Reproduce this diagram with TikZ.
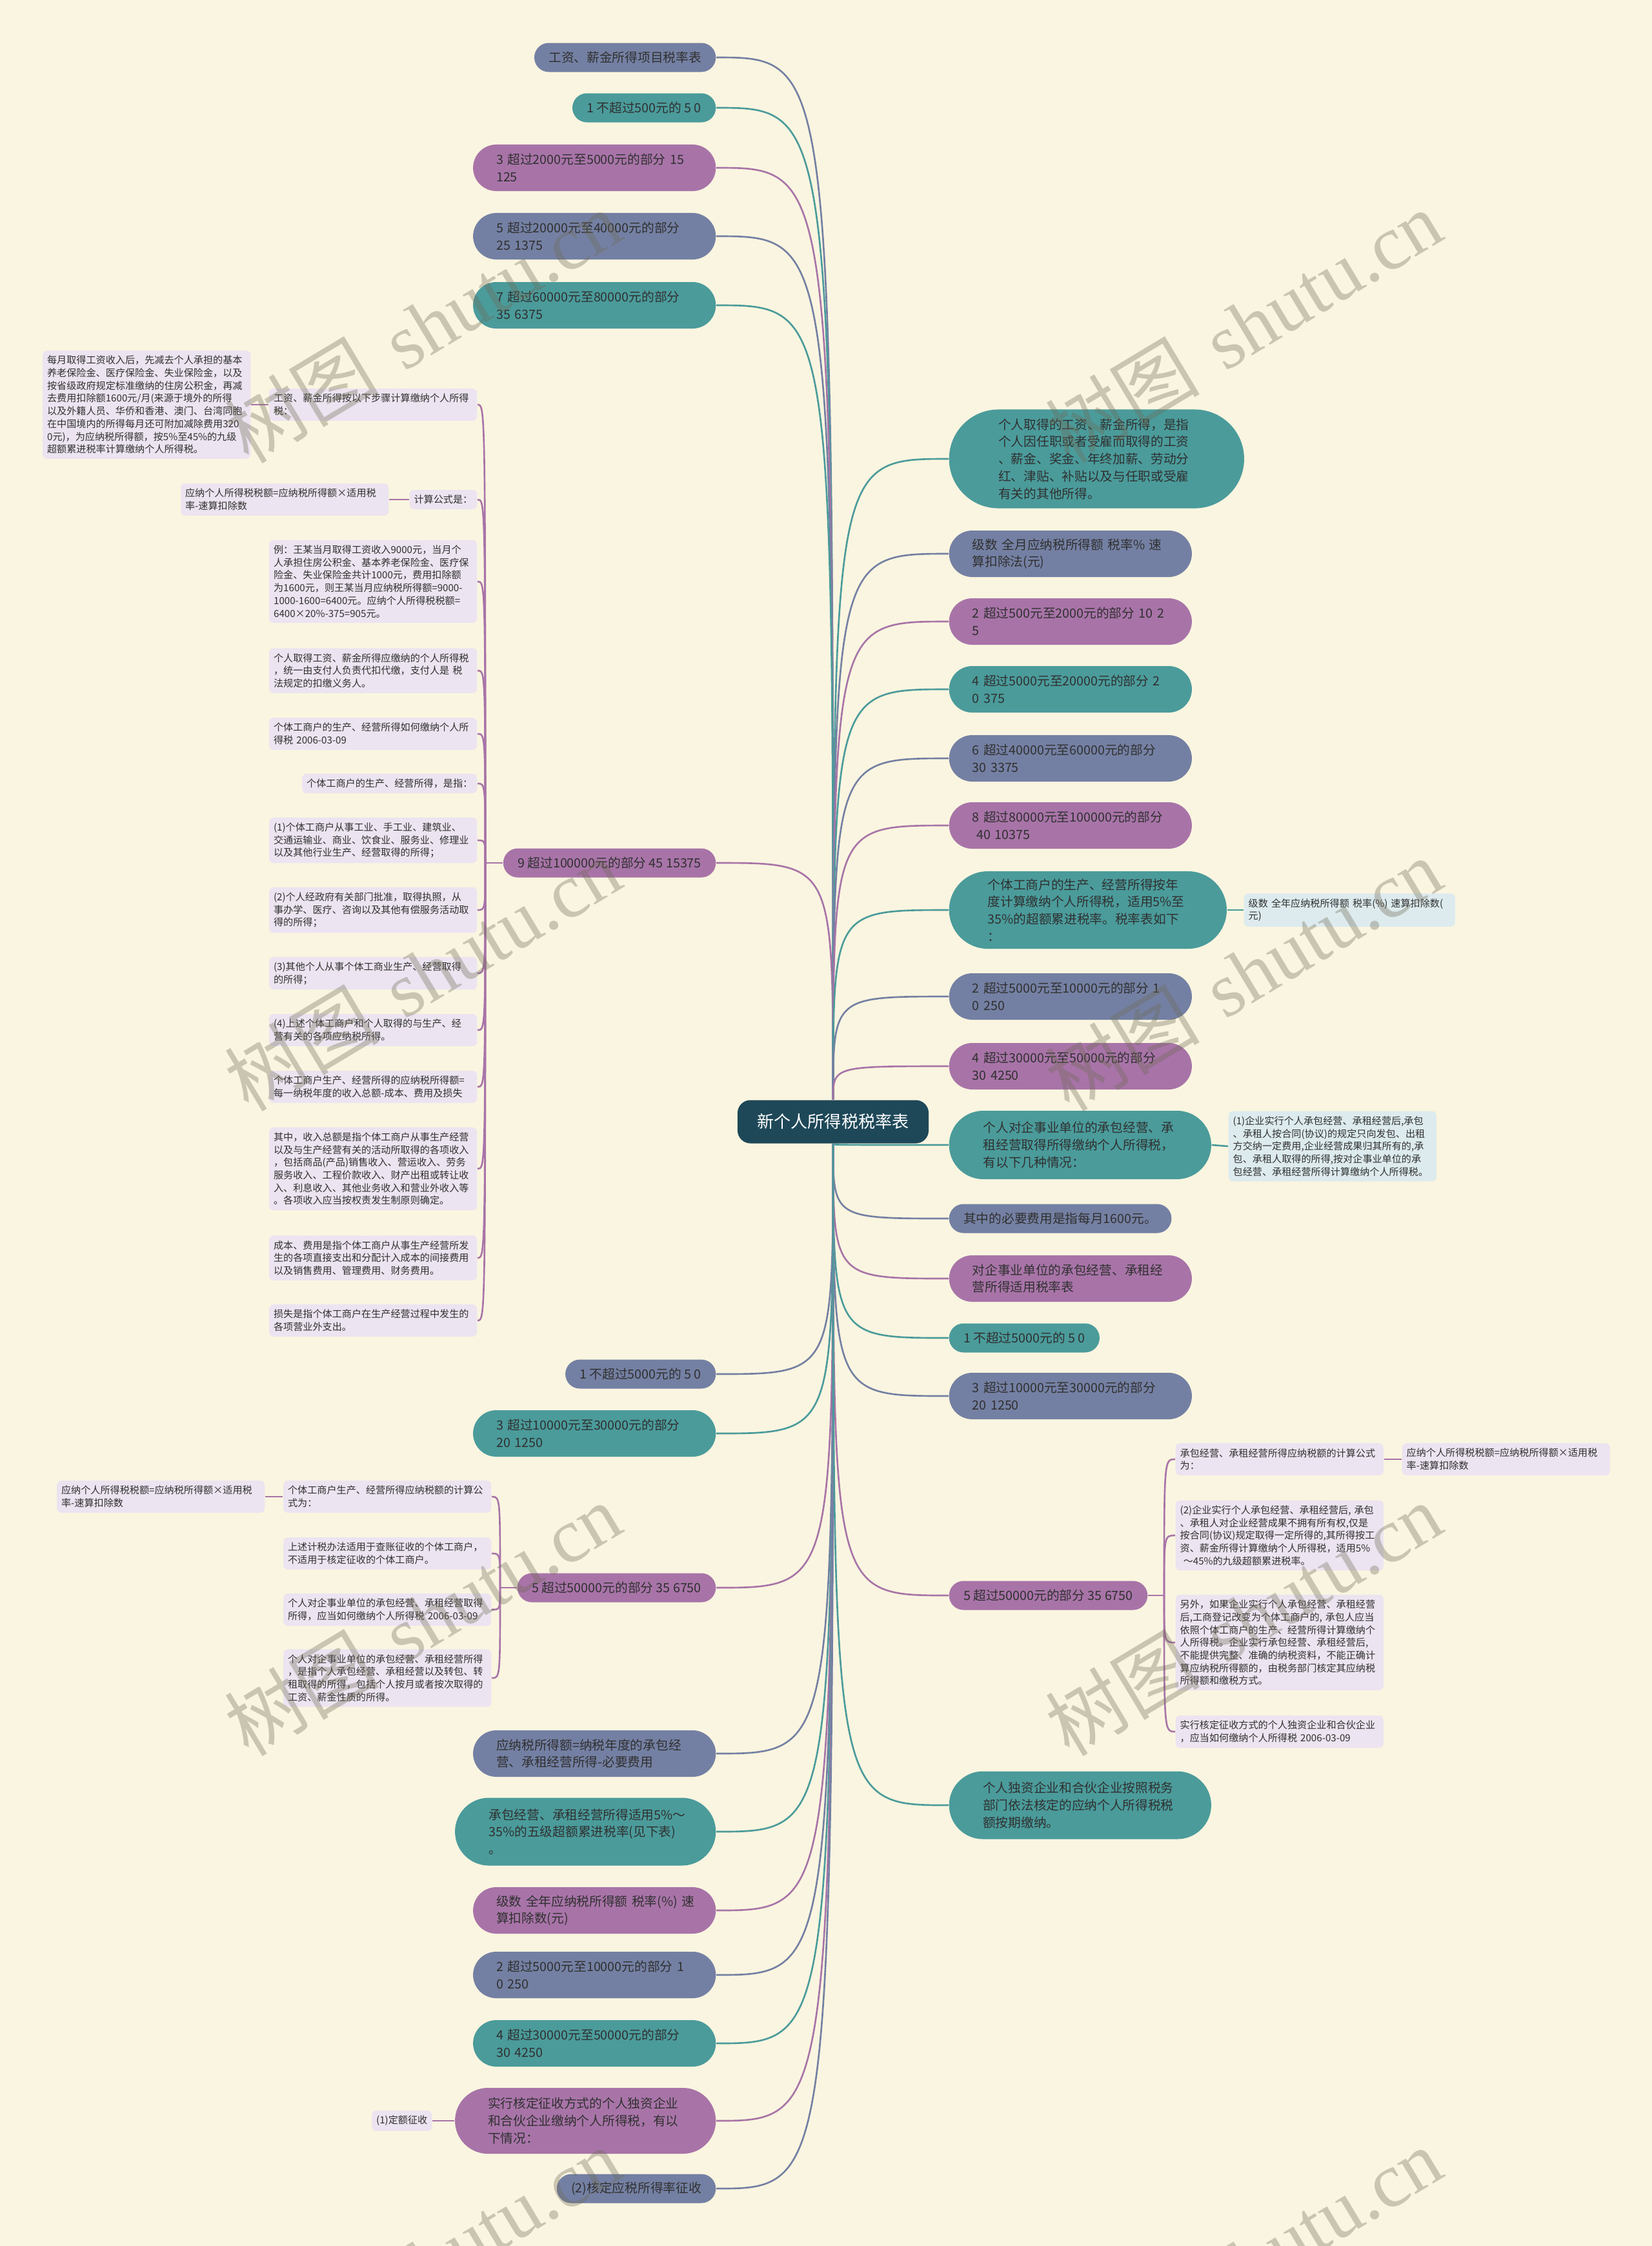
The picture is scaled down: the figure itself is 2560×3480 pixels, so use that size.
\documentclass[tikz,border=0pt]{standalone}
\usepackage{fontspec}
\setmainfont{Noto Sans CJK SC}
\newfontfamily\wmlatin{Liberation Serif}
\usepackage{xcolor}
\usetikzlibrary{calc}
\definecolor{bgcream}{HTML}{FAF5E0}
\definecolor{tealc}{HTML}{4B9B9B}
\definecolor{slatec}{HTML}{7480A3}
\definecolor{purpc}{HTML}{A874A8}
\definecolor{rootc}{HTML}{1E4858}
\definecolor{leafp}{HTML}{ECE4F0}
\definecolor{leafb}{HTML}{DDEBEE}
\definecolor{inkc}{HTML}{303030}
\definecolor{wmc}{HTML}{6E6A55}
\newcommand{\bigfs}{\fontsize{5.6pt}{7.6pt}\selectfont}
\newcommand{\smallfs}{\fontsize{4.3pt}{5.6pt}\selectfont}
\tikzset{
  root/.style={fill=rootc,text=white,rounded corners=0.2cm,minimum width=2.96cm,minimum height=0.67cm,font=\fontsize{7.4pt}{9pt}\selectfont},
  pill/.style={rounded corners=#1,inner xsep=#1,inner ysep=0pt,minimum height=2*#1,font=\bigfs,text=inkc,align=left},
  one/.style={pill=0.225cm},
  two/.style={pill=0.36cm,text width=3.04cm},
  leaf/.style={fill=leafp,rounded corners=0.07cm,inner xsep=0.07cm,inner ysep=0.08cm,font=\smallfs,text=inkc,align=left},
  wide/.style={text width=3.08cm},
  link/.style={draw=#1,line width=0.75pt},
  wmark/.style={text=wmc,opacity=0.34,rotate=31,font=\fontsize{34pt}{36pt}\selectfont}
}

\begin{document}
\begin{tikzpicture}[x=0.01cm,y=-0.01cm]
\fill[bgcream] (0,0) rectangle (2560,3480);
\useasboundingbox (0,0) rectangle (2560,3480);

\node[root] (ctr) at (1291,1738) {新个人所得税税率表};

\node[one,fill=slatec,anchor=east] (l1) at (1110,89) {工资、薪金所得项目税率表};
\node[one,fill=tealc,anchor=east] (l2) at (1110,167) {1 不超过500元的 5 0};
\node[two,fill=purpc,anchor=east] (l3) at (1110,260) {3 超过2000元至5000元的部分 15\\125};
\node[two,fill=slatec,anchor=east] (l4) at (1110,366) {5 超过20000元至40000元的部分\\25 1375};
\node[two,fill=tealc,anchor=east] (l5) at (1110,473) {7 超过60000元至80000元的部分\\35 6375};
\node[one,fill=purpc,anchor=east] (l6) at (1110,1337) {9 超过100000元的部分 45 15375};
\node[one,fill=slatec,anchor=east] (l7) at (1110,2129) {1 不超过5000元的 5 0};
\node[two,fill=tealc,anchor=east] (l8) at (1110,2221) {3 超过10000元至30000元的部分\\20 1250};
\node[one,fill=purpc,anchor=east] (l9) at (1110,2460) {5 超过50000元的部分 35 6750};
\node[two,fill=slatec,anchor=east] (l10) at (1110,2717) {应纳税所得额=纳税年度的承包经\\营、承租经营所得-必要费用};
\node[pill=0.525cm,text width=2.99cm,fill=tealc,anchor=east] (l11) at (1110,2838) {承包经营、承租经营所得适用5\%～\\35\%的五级超额累进税率(见下表)\\。};
\node[two,fill=purpc,anchor=east] (l12) at (1110,2960) {\mbox{级数 全年应纳税所得额 税率(\%) 速}\\算扣除数(元)};
\node[two,fill=slatec,anchor=east] (l13) at (1110,3060) {2 超过5000元至10000元的部分 1\\0 250};
\node[two,fill=tealc,anchor=east] (l14) at (1110,3166) {4 超过30000元至50000元的部分\\30 4250};
\node[pill=0.51cm,text width=3.02cm,fill=purpc,anchor=east] (l15) at (1110,3286) {实行核定征收方式的个人独资企业\\和合伙企业缴纳个人所得税，有以\\下情况：};
\node[one,fill=slatec,anchor=east] (l16) at (1110,3391) {(2)核定应税所得率征收};

\node[pill=0.765cm,text width=3.04cm,fill=tealc,anchor=west] (r1) at (1470,711) {个人取得的工资、薪金所得，是指\\个人因任职或者受雇而取得的工资\\、薪金、奖金、年终加薪、劳动分\\红、津贴、补贴以及与任职或受雇\\有关的其他所得。};
\node[two,fill=slatec,anchor=west] (r2) at (1470,858) {\mbox{级数 全月应纳税所得额 税率\% 速}\\算扣除法(元)};
\node[two,fill=purpc,anchor=west] (r3) at (1470,963) {2 超过500元至2000元的部分 10 2\\5};
\node[two,fill=tealc,anchor=west] (r4) at (1470,1068) {4 超过5000元至20000元的部分 2\\0 375};
\node[two,fill=slatec,anchor=west] (r5) at (1470,1175) {6 超过40000元至60000元的部分\\30 3375};
\node[two,fill=purpc,anchor=west] (r6) at (1470,1279) {8 超过80000元至100000元的部分\\\ 40 10375};
\node[pill=0.6cm,text width=3.1cm,fill=tealc,anchor=west] (r7) at (1470,1410) {个体工商户的生产、经营所得按年\\度计算缴纳个人所得税，适用5\%至\\35\%的超额累进税率。税率表如下\\：};
\node[two,fill=slatec,anchor=west] (r8) at (1470,1544) {2 超过5000元至10000元的部分 1\\0 250};
\node[two,fill=purpc,anchor=west] (r9) at (1470,1652) {4 超过30000元至50000元的部分\\30 4250};
\node[pill=0.53cm,text width=3.0cm,fill=tealc,anchor=west] (r10) at (1470,1774) {个人对企事业单位的承包经营、承\\租经营取得所得缴纳个人所得税，\\有以下几种情况：};
\node[one,fill=slatec,anchor=west] (r11) at (1470,1888) {其中的必要费用是指每月1600元。};
\node[two,fill=purpc,anchor=west] (r12) at (1470,1981) {对企事业单位的承包经营、承租经\\营所得适用税率表};
\node[one,fill=tealc,anchor=west] (r13) at (1470,2073) {1 不超过5000元的 5 0};
\node[two,fill=slatec,anchor=west] (r14) at (1470,2163) {3 超过10000元至30000元的部分\\20 1250};
\node[one,fill=purpc,anchor=west] (r15) at (1470,2472) {5 超过50000元的部分 35 6750};
\node[pill=0.525cm,text width=3.01cm,fill=tealc,anchor=west] (r16) at (1470,2797) {个人独资企业和合伙企业按照税务\\部门依法核定的应纳个人所得税税\\额按期缴纳。};

\node[leaf,wide,anchor=east] (s1) at (740,627) {工资、薪金所得按以下步骤计算缴纳个人所得\\税：};
\node[leaf,wide,anchor=east] (s1a) at (389,627) {每月取得工资收入后，先减去个人承担的基本\\养老保险金、医疗保险金、失业保险金，以及\\按省级政府规定标准缴纳的住房公积金，再减\\去费用扣除额1600元/月(来源于境外的所得\\以及外籍人员、华侨和香港、澳门、台湾同胞\\在中国境内的所得每月还可附加减除费用320\\0元)，为应纳税所得额，按5\%至45\%的九级\\超额累进税率计算缴纳个人所得税。};
\node[leaf,anchor=east] (s2) at (740,774) {计算公式是：};
\node[leaf,wide,anchor=east] (s2a) at (603,774) {应纳个人所得税税额=应纳税所得额×适用税\\率-速算扣除数};
\node[leaf,wide,anchor=east] (s3) at (740,901) {例：王某当月取得工资收入9000元，当月个\\人承担住房公积金、基本养老保险金、医疗保\\险金、失业保险金共计1000元，费用扣除额\\为1600元，则王某当月应纳税所得额=9000-\\1000-1600=6400元。应纳个人所得税税额=\\6400×20\%-375=905元。};
\node[leaf,wide,anchor=east] (s4) at (740,1039) {个人取得工资、薪金所得应缴纳的个人所得税\\，统一由支付人负责代扣代缴，支付人是 税\\法规定的扣缴义务人。};
\node[leaf,wide,anchor=east] (s5) at (740,1137) {个体工商户的生产、经营所得如何缴纳个人所\\得税 2006-03-09};
\node[leaf,anchor=east] (s6) at (740,1214) {个体工商户的生产、经营所得，是指：};
\node[leaf,wide,anchor=east] (s7) at (740,1302) {(1)个体工商户从事工业、手工业、建筑业、\\交通运输业、商业、饮食业、服务业、修理业\\以及其他行业生产、经营取得的所得；};
\node[leaf,wide,anchor=east] (s8) at (740,1410) {(2)个人经政府有关部门批准，取得执照，从\\事办学、医疗、咨询以及其他有偿服务活动取\\得的所得；};
\node[leaf,wide,anchor=east] (s9) at (740,1508) {(3)其他个人从事个体工商业生产、经营取得\\的所得；};
\node[leaf,wide,anchor=east] (s10) at (740,1596) {(4)上述个体工商户和个人取得的与生产、经\\营有关的各项应纳税所得。};
\node[leaf,wide,anchor=east] (s11) at (740,1684) {个体工商户生产、经营所得的应纳税所得额=\\每一纳税年度的收入总额-成本、费用及损失};
\node[leaf,wide,anchor=east] (s12) at (740,1811) {其中，收入总额是指个体工商户从事生产经营\\以及与生产经营有关的活动所取得的各项收入\\，包括商品(产品)销售收入、营运收入、劳务\\服务收入、工程价款收入、财产出租或转让收\\入、利息收入、其他业务收入和营业外收入等\\。各项收入应当按权责发生制原则确定。};
\node[leaf,wide,anchor=east] (s13) at (740,1949) {成本、费用是指个体工商户从事生产经营所发\\生的各项直接支出和分配计入成本的间接费用\\以及销售费用、管理费用、财务费用。};
\node[leaf,wide,anchor=east] (s14) at (740,2046) {损失是指个体工商户在生产经营过程中发生的\\各项营业外支出。};

\node[leaf,wide,anchor=east] (t1) at (762,2319) {个体工商户生产、经营所得应纳税额的计算公\\式为：};
\node[leaf,wide,anchor=east] (t1a) at (411,2319) {应纳个人所得税税额=应纳税所得额×适用税\\率-速算扣除数};
\node[leaf,wide,anchor=east] (t2) at (762,2407) {上述计税办法适用于查账征收的个体工商户，\\不适用于核定征收的个体工商户。};
\node[leaf,wide,anchor=east] (t3) at (762,2494) {个人对企事业单位的承包经营、承租经营取得\\所得，应当如何缴纳个人所得税 2006-03-09};
\node[leaf,wide,anchor=east] (t4) at (762,2600) {个人对企事业单位的承包经营、承租经营所得\\，是指个人承包经营、承租经营以及转包、转\\租取得的所得，包括个人按月或者按次取得的\\工资、薪金性质的所得。};

\node[leaf,wide,anchor=west] (u1) at (1821,2261) {承包经营、承租经营所得应纳税额的计算公式\\为：};
\node[leaf,wide,anchor=west] (u1a) at (2172,2261) {应纳个人所得税税额=应纳税所得额×适用税\\率-速算扣除数};
\node[leaf,wide,anchor=west] (u2) at (1821,2379) {(2)企业实行个人承包经营、承租经营后, 承包\\、承租人对企业经营成果不拥有所有权,仅是\\按合同(协议)规定取得一定所得的,其所得按工\\资、薪金所得计算缴纳个人所得税，适用5\%\\\ ～45\%的九级超额累进税率。};
\node[leaf,wide,anchor=west] (u3) at (1821,2545) {另外，如果企业实行个人承包经营、承租经营\\后,工商登记改变为个体工商户的, 承包人应当\\依照个体工商户的生产、经营所得计算缴纳个\\人所得税。企业实行承包经营、承租经营后,\\不能提供完整、准确的纳税资料，不能正确计\\算应纳税所得额的，由税务部门核定其应纳税\\所得额和缴税方式。};
\node[leaf,wide,anchor=west] (u4) at (1821,2683) {实行核定征收方式的个人独资企业和合伙企业\\，应当如何缴纳个人所得税 2006-03-09};

\node[leaf,fill=leafb,text width=3.13cm,anchor=west] (v1) at (1927,1410) {级数 全年应纳税所得额 税率(\%) 速算扣除数(\\元)};
\node[leaf,fill=leafb,wide,anchor=west] (v2) at (1903,1776) {(1)企业实行个人承包经营、承租经营后,承包\\、承租人按合同(协议)的规定只向发包、出租\\方交纳一定费用,企业经营成果归其所有的,承\\包、承租人取得的所得,按对企事业单位的承\\包经营、承租经营所得计算缴纳个人所得税。};
\node[leaf,anchor=east] (w1) at (670,3286) {(1)定额征收};

\foreach \n/\c in {l1/slatec,l2/tealc,l3/purpc,l4/slatec,l5/tealc,l6/purpc,l7/slatec,l8/tealc,l9/purpc,l10/slatec,l11/tealc,l12/purpc,l13/slatec,l14/tealc,l15/purpc,l16/slatec}
  \draw[link=\c] (ctr) .. controls (ctr |- \n.east) .. (\n.east);
\foreach \n/\c in {r1/tealc,r2/slatec,r3/purpc,r4/tealc,r5/slatec,r6/purpc,r7/tealc,r8/slatec,r9/purpc,r10/tealc,r11/slatec,r12/purpc,r13/tealc,r14/slatec,r15/purpc,r16/tealc}
  \draw[link=\c] (ctr) .. controls (ctr |- \n.west) .. (\n.west);

\coordinate (l6j) at (752,1337);
\draw[link=purpc] (l6.west) -- (l6j);
\foreach \n in {s1,s2,s3,s4,s5,s6,s7,s8,s9,s10,s11,s12,s13,s14}
  \draw[link=purpc] (l6j) .. controls (l6j |- \n.east) .. (\n.east);
\draw[link=purpc] (s1.west) -- (s1a.east);
\draw[link=purpc] (s2.west) -- (s2a.east);

\coordinate (l9j) at (775,2460);
\draw[link=purpc] (l9.west) -- (l9j);
\foreach \n in {t1,t2,t3,t4}
  \draw[link=purpc] (l9j) .. controls (l9j |- \n.east) .. (\n.east);
\draw[link=purpc] (t1.west) -- (t1a.east);

\coordinate (r15j) at (1804,2472);
\draw[link=purpc] (r15.east) -- (r15j);
\foreach \n in {u1,u2,u3,u4}
  \draw[link=purpc] (r15j) .. controls (r15j |- \n.west) .. (\n.west);
\draw[link=purpc] (u1.east) -- (u1a.west);

\draw[link=tealc] (r7.east) -- (v1.west);
\draw[link=tealc] (r10.east) -- (v2.west);
\draw[link=purpc] (l15.west) -- (w1.east);

\foreach \y in {506,1510,2509,3508}{
  \node[wmark] at (655,\y) {树图\hspace{0.35em}{\wmlatin shutu.cn}};
  \node[wmark] at (1927,\y) {树图\hspace{0.35em}{\wmlatin shutu.cn}};
}
\end{tikzpicture}
\end{document}
